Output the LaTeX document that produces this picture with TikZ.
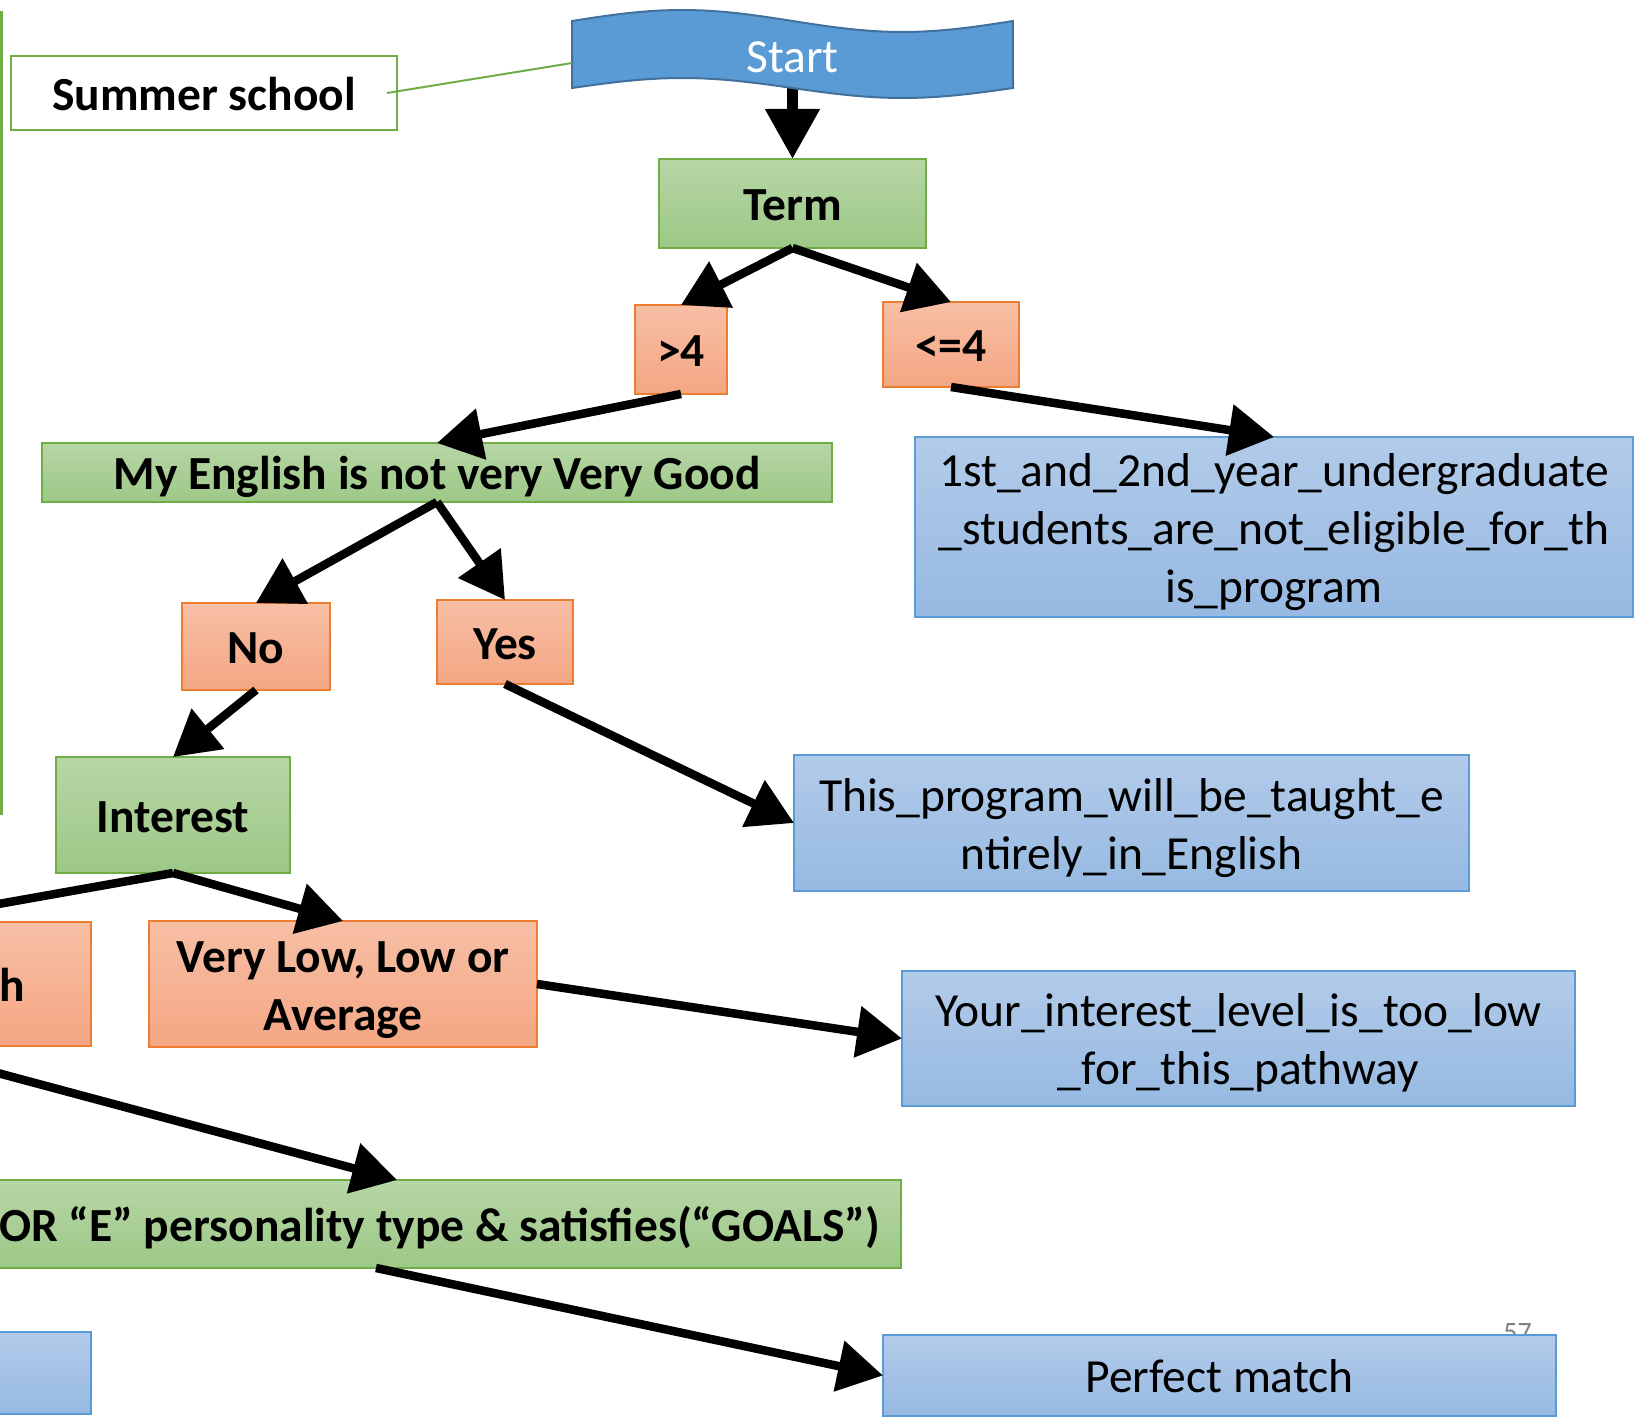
\documentclass[tikz,border=0pt]{standalone}
\usepackage{fontspec}
\setmainfont{Carlito}
\usetikzlibrary{arrows.meta, positioning, backgrounds}
\definecolor{grntop}{RGB}{183,214,166}
\definecolor{grnbot}{RGB}{157,200,134}
\definecolor{grnline}{RGB}{112,173,71}
\definecolor{ortop}{RGB}{247,191,165}
\definecolor{orbot}{RGB}{244,166,131}
\definecolor{orline}{RGB}{237,125,49}
\definecolor{bltop}{RGB}{178,203,233}
\definecolor{blbot}{RGB}{151,185,226}
\definecolor{blline}{RGB}{91,155,213}
\definecolor{startfill}{RGB}{91,155,213}
\definecolor{startline}{RGB}{65,113,156}
\newcommand{\boxfont}{\fontsize{47.5}{58}\selectfont}

\begin{document}
\begin{tikzpicture}[
    x=1pt, y=-1pt,
    >={Triangle[length=45pt, width=50pt]},
    boxsize/.style 2 args={minimum width=#1, minimum height=#2},
    txt/.style={text height=42pt, text depth=7.4pt},
    twolines/.style={text height=100pt},
    threelines/.style={text height=158pt},
    box/.style={txt, inner sep=0pt, outer sep=0pt, align=center, line width=2pt, font=\boxfont},
    grnbox/.style={box, draw=grnline, top color=grntop, bottom color=grnbot, font=\boxfont\bfseries},
    orbox/.style={box, draw=orline, top color=ortop, bottom color=orbot, font=\boxfont\bfseries},
    bluebox/.style={box, draw=blline, top color=bltop, bottom color=blbot},
    cuttext/.style={txt, font=\boxfont\bfseries, anchor=east, inner sep=0pt},
    link/.style={->, line width=8.5pt},
    biglink/.style={-{Triangle[length=50pt, width=52pt]}, line width=11pt},
    greenline/.style={draw=grnline, line width=2pt},
]
    \useasboundingbox (0,0) rectangle (1639,1418);
    \clip (0,0) rectangle (1639,1418);

    % wavy start banner
    \draw[line width=2pt, draw=startline, fill=startfill]
        plot[domain=0:1, samples=41, variable=\t] ({572+441*\t}, {21-11*sin(360*\t)})
        -- plot[domain=1:0, samples=41, variable=\t] ({572+441*\t}, {88-10*sin(360*\t)})
        -- cycle;
    \node[boxsize={441pt}{64pt}, outer sep=0pt, font=\boxfont, text=white] (start) at (792.5,57) {Start};

    \node[grnbox, boxsize={267pt}{89pt}] (term) at (792.5,203.5) {Term};
    \node[orbox, boxsize={92pt}{89pt}, below=57pt of term, xshift=-111.5pt] (gt4) {>4};
    \node[orbox, boxsize={136pt}{85pt}, below=54pt of term, xshift=158.5pt] (le4) {<=4};
    \node[grnbox, boxsize={790pt}{59pt}, below=49pt of gt4, xshift=-244pt] (eng) {My English is not very Very Good};
    \node[bluebox, threelines, boxsize={718pt}{180pt}, below=50pt of le4, xshift=323pt] (elig)
        {1st\_and\_2nd\_year\_undergraduate\\\_students\_are\_not\_eligible\_for\_th\\is\_program};
    \node[orbox, boxsize={148pt}{87pt}, below=101pt of eng, xshift=-181pt] (no) {No};
    \node[orbox, boxsize={136pt}{84pt}, below=98pt of eng, xshift=68pt] (yes) {Yes};
    \node[grnbox, boxsize={234pt}{116pt}, below=67pt of no, xshift=-83pt] (interest) {Interest};
    \node[bluebox, twolines, boxsize={675pt}{136pt}, below=71pt of yes, xshift=626.5pt] (taught)
        {This\_program\_will\_be\_taught\_e\\ntirely\_in\_English};
    \node[orbox, twolines, boxsize={388pt}{126pt}, below=48pt of interest, xshift=170pt] (vlow) {Very Low, Low or\\Average};
    \node[orbox, boxsize={388pt}{124pt}, below=49pt of interest, xshift=-276pt] (high) {};
    \node[cuttext] (hightext) at ([xshift=-66pt]high.east) {h};
    \node[bluebox, twolines, boxsize={673pt}{135pt}, below=80pt of taught, xshift=107pt] (toolow)
        {Your\_interest\_level\_is\_too\_low\\\_for\_this\_pathway};
    \node[grnbox, boxsize={1050pt}{88pt}, below=133pt of vlow, xshift=33pt] (goals) {};
    \node[cuttext] (goalstext) at ([xshift=-21pt]goals.east)
        {OR “E” personality type \& satisfies(“GOALS”)};
    \node[font=\fontsize{28}{30}\selectfont, text=gray] (pagenum) at (1517.5,1333) {57};
    \node[bluebox, boxsize={673pt}{81pt}, below=229pt of toolow, xshift=-19pt] (perfect) {Perfect match};
    \node[bluebox, boxsize={388pt}{82pt}, below=286pt of high] (lowleft) {};

    \node[box, draw=grnline, fill=white, font=\boxfont\bfseries, boxsize={386pt}{74pt}] (summer) at (204,93) {Summer school};

    % green rail on the left and the summer school link
    \coordinate (railtop) at (1,11);
    \coordinate (railend) at (1,815);
    \draw[greenline, line width=3pt] (railtop) -- (railend);
    \draw[greenline] ([xshift=-10pt]summer.east) -- ([yshift=-6pt]start.west);

    \begin{scope}[on background layer]
        \fill[white] (0,0) rectangle (1639,1418);
        \draw[biglink] ([yshift=8pt]start.south) -- (term.north);
    \end{scope}

    \draw[link] (term.south) -- (gt4.north);
    \draw[link] (term.south) -- (le4.north);
    \draw[link] (gt4.south) -- (eng.north);
    \draw[link] (le4.south) -- (elig.north);
    \draw[link] (eng.south) -- (no.north);
    \draw[link] (eng.south) -- (yes.north);
    \draw[link] (no.south) -- (interest.north);
    \draw[link] (yes.south) -- (taught.west);
    \draw[link] (interest.south) -- (vlow.north);
    \draw[link] (interest.south) -- (high.north);
    \draw[link] (vlow.east) -- (toolow.west);
    \draw[link] (high.south) -- ([xshift=21pt]goals.north);
    \draw[link] (goals.south) -- (perfect.west);
\end{tikzpicture}
\end{document}
